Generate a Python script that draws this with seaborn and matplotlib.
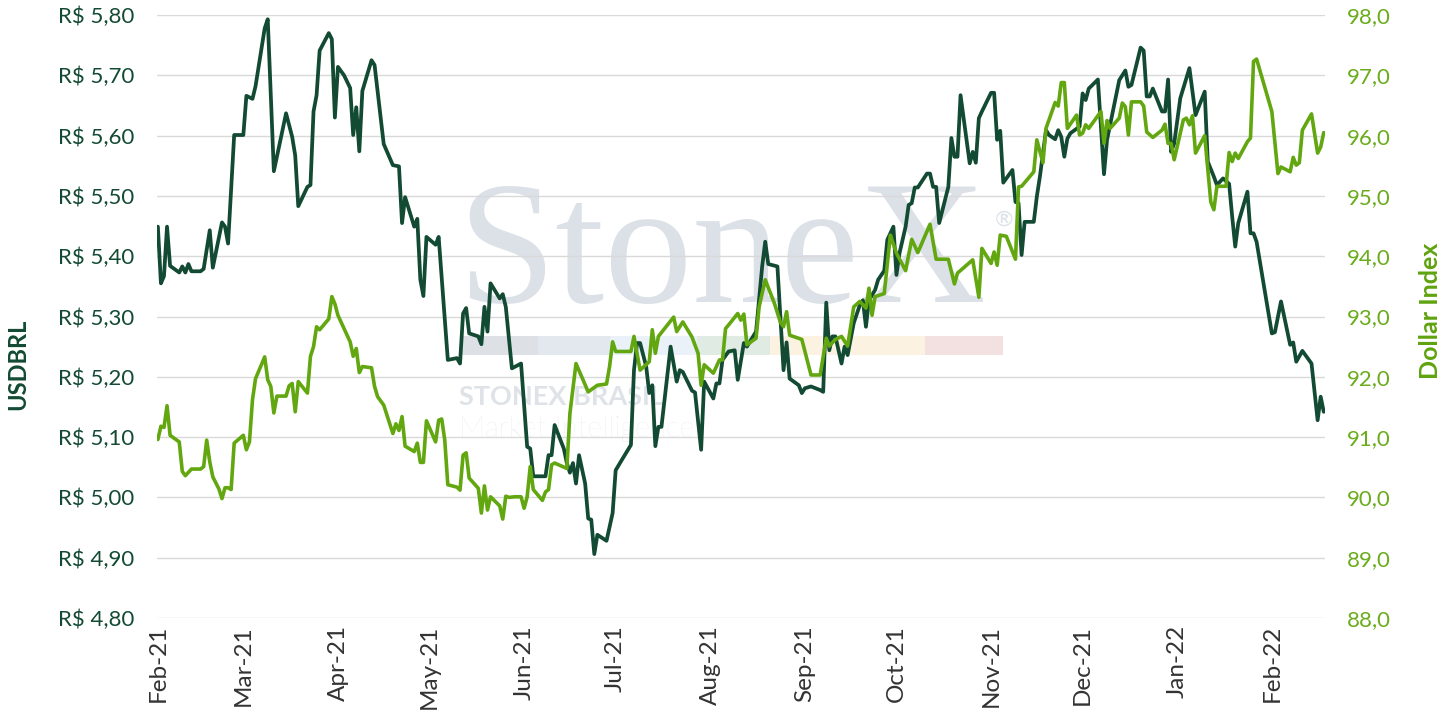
import numpy as np
import pandas as pd
import matplotlib
matplotlib.use("Agg")
import matplotlib.pyplot as plt
import matplotlib.dates as mdates
from matplotlib.ticker import FuncFormatter
import seaborn as sns

# days counted from 2021-02-01
usd_day = [0, 1, 2, 3, 4, 7, 8, 9, 10, 11, 14, 15, 17, 18, 21, 22, 23, 25, 28, 29,
           31, 32, 35, 36, 38, 39, 42, 44, 45, 46, 49, 50, 51, 52, 53, 56, 57, 58, 59, 61,
           63, 64, 65, 66, 67, 70, 71, 74, 77, 79, 80, 81, 84, 85, 86, 87, 88, 91, 92, 95,
           98, 99, 100, 101, 102, 105, 106, 107, 108, 109, 112, 113, 114, 116, 119, 121, 122, 123, 127, 128,
           129, 130, 133, 134, 135, 136, 137, 138, 140, 141, 142, 143, 144, 147, 149, 150, 152, 155, 156, 157,
           158, 160, 161, 162, 163, 164, 165, 168, 170, 171, 172, 175, 176, 178, 179, 182, 183, 184, 185, 187,
           189, 190, 192, 193, 196, 198, 199, 200, 203, 205, 206, 207, 210, 211, 212, 214, 217, 218, 219, 220,
           221, 222, 224, 225, 226, 228, 230, 231, 232, 233, 235, 236, 238, 239, 241, 242, 243, 245, 246, 247,
           248, 249, 252, 253, 254, 255, 256, 259, 260, 261, 262, 263, 266, 267, 268, 269, 270, 273, 274, 275,
           276, 277, 280, 281, 282, 283, 284, 287, 288, 289, 291, 292, 294, 295, 296, 297, 298, 299, 302, 303,
           304, 305, 308, 310, 311, 315, 317, 318, 319, 322, 323, 324, 325, 326, 329, 330, 331, 332, 333, 335,
           338, 340, 343, 344, 346, 347, 349, 351, 352, 353, 354, 357, 358, 359, 360, 365, 366, 368, 371, 372,
           373, 375, 378, 380, 381, 382]
usd_val = [5.449, 5.355, 5.367, 5.449, 5.384, 5.373, 5.383, 5.373, 5.387, 5.375, 5.375, 5.379, 5.443, 5.381, 5.456, 5.449, 5.421, 5.601, 5.601, 5.666,
           5.661, 5.682, 5.778, 5.793, 5.541, 5.565, 5.637, 5.598, 5.567, 5.483, 5.515, 5.518, 5.640, 5.667, 5.741, 5.770, 5.760, 5.630, 5.714, 5.700,
           5.679, 5.601, 5.647, 5.574, 5.674, 5.725, 5.717, 5.586, 5.551, 5.549, 5.455, 5.498, 5.449, 5.462, 5.361, 5.334, 5.432, 5.419, 5.432, 5.228,
           5.231, 5.222, 5.305, 5.314, 5.272, 5.267, 5.254, 5.316, 5.275, 5.355, 5.330, 5.337, 5.316, 5.214, 5.222, 5.084, 5.081, 5.035, 5.035, 5.070,
           5.070, 5.120, 5.081, 5.057, 5.041, 5.057, 5.023, 5.070, 5.023, 4.965, 4.963, 4.906, 4.938, 4.928, 4.974, 5.045, 5.062, 5.087, 5.211, 5.256,
           5.256, 5.217, 5.173, 5.186, 5.085, 5.117, 5.117, 5.250, 5.192, 5.211, 5.208, 5.177, 5.174, 5.079, 5.192, 5.164, 5.189, 5.189, 5.228, 5.242,
           5.244, 5.195, 5.256, 5.250, 5.275, 5.383, 5.424, 5.387, 5.383, 5.211, 5.257, 5.197, 5.186, 5.173, 5.181, 5.184, 5.178, 5.175, 5.323, 5.244,
           5.267, 5.267, 5.222, 5.250, 5.236, 5.289, 5.319, 5.327, 5.283, 5.327, 5.344, 5.361, 5.376, 5.427, 5.449, 5.369, 5.405, 5.449, 5.485, 5.488,
           5.514, 5.514, 5.537, 5.537, 5.515, 5.515, 5.455, 5.515, 5.596, 5.565, 5.565, 5.667, 5.554, 5.573, 5.555, 5.629, 5.640, 5.671, 5.671, 5.593,
           5.608, 5.522, 5.543, 5.490, 5.488, 5.402, 5.457, 5.457, 5.499, 5.532, 5.609, 5.601, 5.594, 5.609, 5.598, 5.565, 5.595, 5.604, 5.615, 5.670,
           5.659, 5.678, 5.693, 5.536, 5.593, 5.692, 5.708, 5.681, 5.684, 5.746, 5.741, 5.665, 5.665, 5.678, 5.640, 5.640, 5.693, 5.573, 5.587, 5.662,
           5.712, 5.634, 5.673, 5.557, 5.532, 5.518, 5.529, 5.520, 5.466, 5.416, 5.455, 5.507, 5.438, 5.438, 5.424, 5.272, 5.274, 5.325, 5.253, 5.257,
           5.225, 5.243, 5.222, 5.128, 5.167, 5.142]

dxy_day = [0, 1, 2, 3, 4, 7, 8, 9, 11, 14, 15, 16, 17, 18, 20, 21, 22, 23, 24, 25,
           28, 29, 30, 31, 32, 35, 36, 37, 38, 39, 42, 43, 44, 45, 46, 49, 50, 51, 52, 53,
           56, 57, 58, 59, 63, 64, 65, 66, 67, 70, 71, 72, 74, 77, 78, 79, 80, 81, 84, 85,
           86, 87, 88, 91, 92, 93, 94, 95, 98, 99, 100, 101, 102, 105, 106, 107, 108, 109, 112, 113,
           114, 115, 117, 119, 120, 121, 122, 123, 126, 127, 128, 129, 130, 134, 135, 137, 141, 144, 147, 148,
           149, 150, 155, 156, 158, 161, 162, 163, 164, 169, 170, 172, 175, 177, 178, 179, 182, 184, 185, 186,
           187, 190, 191, 192, 193, 196, 197, 199, 202, 204, 205, 206, 207, 211, 214, 217, 219, 220, 222, 224,
           226, 228, 230, 232, 233, 234, 235, 238, 240, 242, 245, 247, 249, 253, 255, 259, 261, 262, 267, 269,
           270, 273, 274, 275, 276, 278, 281, 282, 283, 287, 288, 290, 291, 294, 295, 296, 297, 298, 301, 302,
           303, 304, 305, 309, 310, 311, 312, 315, 316, 317, 318, 319, 322, 323, 324, 326, 329, 330, 331, 332,
           333, 336, 337, 338, 339, 340, 343, 345, 346, 347, 350, 351, 352, 353, 354, 357, 358, 359, 360, 365,
           367, 368, 371, 372, 373, 374, 375, 378, 380, 381, 382]
dxy_val = [90.96, 91.18, 91.16, 91.52, 91.03, 90.92, 90.43, 90.36, 90.47, 90.47, 90.51, 90.95, 90.59, 90.34, 90.14, 89.98, 90.16, 90.16, 90.13, 90.90,
           91.03, 90.79, 90.92, 91.62, 91.97, 92.33, 91.95, 91.84, 91.40, 91.68, 91.68, 91.85, 91.89, 91.42, 91.92, 91.73, 92.34, 92.50, 92.83, 92.78,
           92.96, 93.33, 93.21, 93.02, 92.58, 92.34, 92.47, 92.07, 92.17, 92.15, 91.84, 91.67, 91.53, 91.06, 91.22, 91.11, 91.34, 90.85, 90.76, 90.90,
           90.58, 90.58, 91.27, 90.92, 91.28, 91.30, 90.95, 90.21, 90.17, 90.12, 90.70, 90.74, 90.32, 90.15, 89.74, 90.19, 89.79, 90.01, 89.86, 89.64,
           90.02, 90.00, 90.01, 90.01, 89.82, 90.01, 90.51, 90.13, 89.95, 90.09, 90.13, 90.54, 90.57, 90.48, 91.39, 92.22, 91.75, 91.86, 91.88, 92.17,
           92.58, 92.42, 92.42, 92.67, 92.11, 92.25, 92.78, 92.39, 92.67, 92.99, 92.75, 92.91, 92.66, 92.39, 91.86, 92.20, 92.06, 92.28, 92.28, 92.80,
           92.86, 93.05, 92.94, 93.04, 92.53, 92.64, 93.16, 93.61, 93.22, 92.90, 92.83, 93.08, 92.69, 92.62, 92.03, 92.03, 92.64, 92.51, 92.62, 92.67,
           92.51, 93.16, 93.25, 93.14, 93.47, 93.02, 93.33, 93.38, 94.35, 94.05, 93.76, 94.28, 94.06, 94.53, 93.95, 93.95, 93.54, 93.72, 93.94, 93.32,
           94.13, 93.88, 94.07, 93.85, 94.35, 94.33, 93.95, 95.15, 95.16, 95.40, 95.93, 95.55, 96.12, 96.55, 96.49, 96.88, 96.88, 96.12, 96.34, 96.01,
           96.04, 96.18, 96.12, 96.40, 95.87, 96.25, 96.12, 96.29, 96.54, 96.48, 96.01, 96.56, 96.56, 96.49, 96.06, 95.97, 96.09, 96.19, 95.87, 95.87,
           95.60, 96.26, 96.29, 96.18, 96.33, 95.71, 96.00, 94.90, 94.77, 95.16, 95.16, 95.72, 95.57, 95.71, 95.62, 95.90, 95.96, 97.23, 97.27, 96.40,
           95.37, 95.48, 95.40, 95.64, 95.51, 95.55, 96.09, 96.36, 95.71, 95.81, 96.05]

start = pd.Timestamp("2021-02-01")
usd = pd.DataFrame({"date": start + pd.to_timedelta(usd_day, unit="D"), "USDBRL": usd_val})
dxy = pd.DataFrame({"date": start + pd.to_timedelta(dxy_day, unit="D"), "DXY": dxy_val})

sns.set_style("white")
plt.rcParams["font.family"] = ["Lato", "DejaVu Sans"]

dark = "#134a33"
lime = "#62a70f"

fig = plt.figure(figsize=(14.52, 7.19), dpi=100)
ax = fig.add_axes([0.1081, 0.1405, 0.8044, 0.8386])
ax2 = ax.twinx()

# watermark behind the lines
ax.text(0.484, 0.524, "StoneX", transform=ax.transAxes, ha="center", va="baseline",
        fontsize=127, family="Liberation Serif", color="#dce1e8", zorder=0)
ax.text(0.717, 0.66, "®", transform=ax.transAxes, ha="left", va="center",
        fontsize=16, color="#dce1e8", zorder=0)
seg_x = [0.2594, 0.3262, 0.3878, 0.4623, 0.5248, 0.6575, 0.7243]
seg_c = ["#dde1e6", "#e3e8ef", "#eaf1f8", "#e0ebe3", "#fcf2e2", "#f3e0e1"]
for i, c in enumerate(seg_c):
    ax.add_patch(plt.Rectangle((seg_x[i], 0.436), seg_x[i + 1] - seg_x[i], 0.032,
                               transform=ax.transAxes, color=c, lw=0, zorder=0))
ax.text(0.259, 0.353, "STONEX BRASIL", transform=ax.transAxes, ha="left", va="baseline",
        fontsize=19.5, fontweight="bold", color="#dfe3e8", zorder=0)
ax.text(0.259, 0.300, "Market Intelligence", transform=ax.transAxes, ha="left", va="baseline",
        fontsize=21, fontweight="light", color="#e1e5ea", zorder=0)

sns.lineplot(data=usd, x="date", y="USDBRL", ax=ax, color=dark, lw=2.7, zorder=3)
sns.lineplot(data=dxy, x="date", y="DXY", ax=ax2, color=lime, lw=2.6, zorder=3)

ax.set_ylim(4.80, 5.80)
ax2.set_ylim(88, 98)
ax.set_yticks(np.arange(4.80, 5.801, 0.10))
ax2.set_yticks(np.arange(88, 98.01, 1))
ax.set_xlim(start - pd.Timedelta(days=0.3), start + pd.Timedelta(days=382.4))

ax.yaxis.set_major_formatter(FuncFormatter(lambda v, p: "R$ " + f"{v:.2f}".replace(".", ",")))
ax2.yaxis.set_major_formatter(FuncFormatter(lambda v, p: f"{v:.1f}".replace(".", ",")))
ax.xaxis.set_major_locator(mdates.MonthLocator())
ax.xaxis.set_major_formatter(mdates.DateFormatter("%b-%y"))

ax.grid(axis="y", color="#d9d9d9", lw=1)
ax.grid(axis="x", visible=False)
ax2.grid(False)
for a in (ax, ax2):
    for s in a.spines.values():
        s.set_visible(False)

ax.tick_params(axis="y", length=0, pad=16, labelsize=16, labelcolor=dark)
ax2.tick_params(axis="y", length=0, pad=16, labelsize=16, labelcolor="#6aac1c")
ax.tick_params(axis="x", length=0, pad=5, labelsize=17.5, labelcolor="#333333", rotation=90)

ax.set_xlabel("")
ax.set_ylabel("USDBRL", fontsize=17, fontweight="bold", color=dark)
ax2.set_ylabel("Dollar Index", fontsize=18, fontweight="bold", color="#5fa30f")
ax.yaxis.set_label_coords(-0.1096, 0.42)
ax2.yaxis.set_label_coords(1.0805, 0.51)

fig.savefig("out.png", dpi=100)
